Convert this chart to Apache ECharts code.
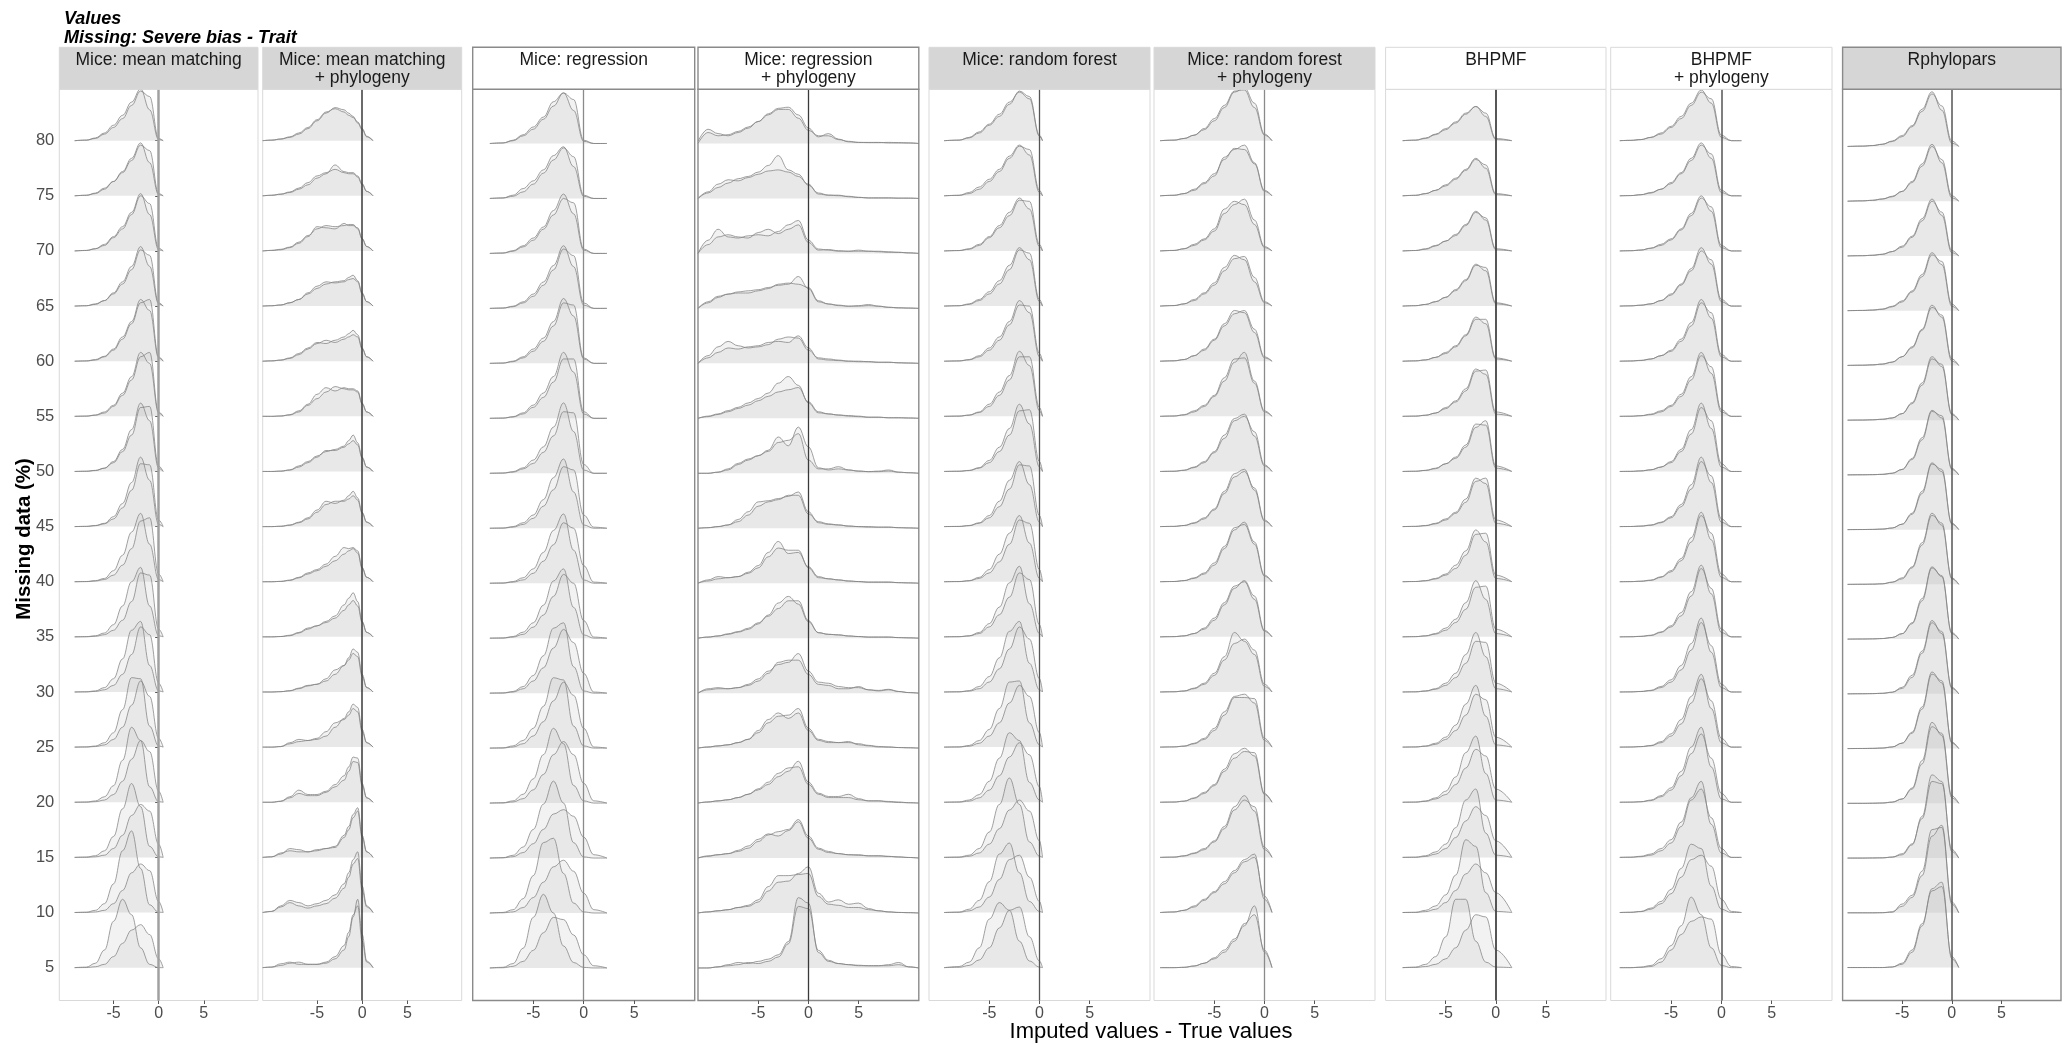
<!DOCTYPE html>
<html><head><meta charset="utf-8">
<script src="https://cdn.jsdelivr.net/npm/echarts@6/dist/echarts.min.js"></script>
<style>html,body{margin:0;padding:0;background:#fff}#c{width:2069px;height:1045px}</style>
</head><body><div id="c"></div>
<script>
// ---------------- DATA ----------------
const missingLevels = [80,75,70,65,60,55,50,45,40,35,30,25,20,15,10,5];
const yTickValues = [5,10,15,20,25,30,35,40,45,50,55,60,65,70,75,80];
const xTickValues = [-5,0,5];
const panelTitles = ["Mice: mean matching","Mice: mean matching\n+ phylogeny","Mice: regression","Mice: regression\n+ phylogeny","Mice: random forest","Mice: random forest\n+ phylogeny","BHPMF","BHPMF\n+ phylogeny","Rphylopars"];
const titleText = "Values\nMissing: Severe bias - Trait";
const xTitle = "Imputed values - True values";
const yTitle = "Missing data (%)";

// x positions of density estimates per panel
const G1 = [-9.3,-8,-7,-6,-5,-4,-3,-2,-1,0,0.5];
const G2 = [-11,-10,-9,-8,-7,-6,-5,-4,-3,-2,-1.5,-1,-0.5,0,0.5,1.2];
const G3 = [-9.3,-8,-7,-6,-5,-4,-3,-2,-1,0,1,2.3];
const G4 = [-11,-10,-9,-8,-7,-6,-5,-4,-3,-2,-1,0,1,2,3,4,5,6,7,8,9,10,11];
const G5 = [-9.5,-8,-7,-6,-5,-4,-3,-2,-1,0,0.3];
const G6 = [-10.4,-9,-8,-7,-6,-5,-4,-3,-2,-1,0,0.75];
const G7 = [-9.3,-8,-7,-6,-5,-4,-3,-2,-1,0,1.6];
const G8 = [-10.1,-9,-8,-7,-6,-5,-4,-3,-2,-1,0,1,2];
const G9 = [-10.5,-9,-8,-7,-6,-5,-4,-3,-2,-1,0,0.7];

// ridge heights (rows: 80% ... 5%), two replicate curves (a, b) per ridge
const P1a = [
[0,0.05,0.25,0.7,1.4,2.3,3.5,4.7,2.8,0.1,0],
[0,0.05,0.25,0.7,1.3,2.2,3.4,4.8,3.0,0.1,0],
[0,0.05,0.2,0.6,1.3,2.2,3.5,5.2,3.3,0.1,0],
[0,0.03,0.2,0.5,1.2,2.2,3.6,5.4,3.6,0.2,0],
[0,0.03,0.15,0.45,1.1,2.2,3.6,5.6,4.6,0.3,0],
[0,0.02,0.12,0.4,1.0,2.1,3.6,5.8,4.8,0.3,0],
[0,0.02,0.1,0.3,0.9,2.0,3.8,6.2,4.6,0.3,0],
[0,0.02,0.1,0.3,0.9,2.1,4.0,6.3,4.2,0.2,0],
[0,0.02,0.1,0.3,1.0,2.4,4.5,6.2,3.4,0.2,0],
[0,0.02,0.1,0.35,1.1,2.8,5.0,6.3,2.8,0.1,0],
[0,0.02,0.1,0.4,1.2,3.0,5.6,6.4,2.4,0.1,0],
[0,0.02,0.1,0.4,1.3,3.4,6.3,6.2,1.9,0.1,0],
[0,0.02,0.12,0.5,1.5,3.8,6.8,5.6,1.4,0.05,0],
[0,0.03,0.15,0.6,1.9,4.4,6.7,4.6,1.0,0.05,0],
[0,0.03,0.2,0.8,2.6,5.6,7.4,4.0,0.7,0.03,0],
[0,0.05,0.4,1.6,4.2,6.2,4.8,1.8,0.3,0,0]];
const P1b = [
[0,0.05,0.2,0.6,1.2,2.0,3.2,4.5,4.0,0.2,0],
[0,0.05,0.2,0.6,1.3,2.1,3.2,4.6,4.1,0.2,0],
[0,0.04,0.2,0.5,1.2,2.0,3.3,5.0,4.3,0.25,0],
[0,0.03,0.15,0.5,1.1,2.0,3.3,5.1,4.6,0.3,0],
[0,0.02,0.1,0.4,1.0,2.0,3.4,5.3,5.6,0.4,0],
[0,0.02,0.1,0.3,0.9,1.9,3.3,5.4,5.8,0.4,0],
[0,0.02,0.08,0.3,0.8,1.8,3.3,5.8,5.9,0.5,0],
[0,0.02,0.08,0.25,0.7,1.7,3.3,5.7,5.6,0.6,0],
[0,0.01,0.06,0.2,0.6,1.5,3.0,5.5,5.8,0.7,0],
[0,0.01,0.05,0.2,0.6,1.5,3.2,5.8,5.6,0.7,0],
[0,0.01,0.05,0.2,0.6,1.6,3.4,5.9,5.2,0.8,0],
[0,0.01,0.05,0.2,0.7,1.8,3.8,6.0,4.6,0.8,0],
[0,0.01,0.05,0.2,0.7,1.9,3.9,5.6,4.6,1.0,0],
[0,0.01,0.05,0.2,0.8,2.0,3.8,4.8,4.2,1.2,0],
[0,0.01,0.05,0.2,0.8,2.0,3.6,4.4,3.8,1.0,0],
[0,0.01,0.08,0.3,1.0,2.2,3.4,3.9,3.0,0.8,0]];

const P2a = [
[0,0.05,0.15,0.35,0.7,1.2,1.9,2.6,2.9,2.6,2.3,2.1,1.7,1.1,0.4,0],
[0,0.05,0.15,0.35,0.7,1.2,1.8,2.1,2.4,2.1,2.0,2.0,1.7,1.0,0.4,0],
[0,0.05,0.15,0.35,0.8,1.4,2.0,2.3,2.2,2.3,2.4,2.4,2.0,1.1,0.4,0],
[0,0.03,0.1,0.3,0.6,1.1,1.6,2.0,2.2,2.3,2.6,2.8,2.3,1.2,0.4,0],
[0,0.03,0.1,0.3,0.7,1.2,1.7,1.6,1.9,2.2,2.5,2.8,2.4,1.2,0.4,0],
[0,0,0.03,0.15,0.5,1.1,2.0,2.6,2.3,2.6,2.5,2.5,2.3,1.2,0.4,0],
[0,0,0.03,0.15,0.5,0.9,1.4,1.8,2.0,2.3,2.8,3.3,2.6,1.3,0.4,0],
[0,0,0.03,0.15,0.4,0.8,1.5,2.3,2.1,2.4,2.8,3.2,2.6,1.3,0.4,0],
[0,0,0.03,0.15,0.4,0.8,1.1,1.6,2.3,3.1,3.0,3.1,2.8,1.3,0.4,0],
[0,0,0.03,0.15,0.4,0.8,1.0,1.4,1.9,2.9,3.5,4.0,3.2,1.4,0.4,0],
[0,0,0.03,0.12,0.35,0.6,0.7,1.2,2.0,2.4,3.1,3.9,3.6,1.6,0.4,0],
[0,0,0.05,0.4,0.7,0.6,0.7,1.0,1.8,2.6,3.2,3.9,3.6,1.6,0.4,0],
[0,0,0.1,0.5,1.1,0.7,0.7,1.0,1.6,2.4,3.2,4.1,4.0,1.7,0.4,0],
[0,0.05,0.3,0.8,0.7,0.5,0.6,0.8,1.0,2.0,2.8,3.9,4.5,2.0,0.5,0],
[0,0.1,0.6,1.1,0.9,0.6,0.8,1.1,1.6,2.6,3.6,4.8,5.5,2.4,0.6,0],
[0,0.05,0.35,0.5,0.3,0.3,0.3,0.4,0.8,1.6,2.8,4.6,6.2,3.0,0.6,0]];
const P2b = [
[0,0.05,0.15,0.3,0.6,1.1,1.8,2.5,3.0,2.8,2.5,2.2,1.6,1.0,0.35,0],
[0,0.05,0.15,0.3,0.6,1.0,1.6,2.0,2.8,2.2,2.1,2.1,1.8,1.1,0.4,0],
[0,0.05,0.1,0.3,0.7,1.3,2.2,2.1,2.0,2.5,2.3,2.3,2.1,1.1,0.4,0],
[0,0.03,0.1,0.3,0.6,1.2,1.8,2.2,2.1,2.2,2.4,2.5,2.2,1.1,0.4,0],
[0,0.03,0.1,0.25,0.6,1.1,1.6,1.9,1.7,2.0,2.2,2.4,2.2,1.1,0.4,0],
[0,0,0.03,0.12,0.4,1.0,1.6,2.2,2.7,2.5,2.4,2.4,2.2,1.1,0.4,0],
[0,0,0.03,0.12,0.4,0.8,1.3,1.9,1.9,2.2,2.5,2.8,2.4,1.2,0.4,0],
[0,0,0.03,0.12,0.35,0.7,1.3,2.0,2.3,2.3,2.5,2.8,2.4,1.2,0.4,0],
[0,0,0.03,0.12,0.35,0.7,1.0,1.4,1.9,2.5,2.8,3.0,2.6,1.2,0.4,0],
[0,0,0.03,0.1,0.35,0.7,1.0,1.3,1.7,2.4,2.9,3.3,2.8,1.3,0.4,0],
[0,0,0.03,0.1,0.3,0.55,0.7,1.0,1.6,2.4,2.9,3.5,3.2,1.4,0.4,0],
[0,0,0.05,0.3,0.5,0.6,0.8,1.4,2.2,2.5,2.9,3.5,3.2,1.4,0.4,0],
[0,0,0.08,0.4,0.8,0.6,0.6,0.9,1.4,2.0,2.8,3.7,3.6,1.5,0.4,0],
[0,0.05,0.4,0.6,0.5,0.5,0.7,0.8,0.9,1.8,2.5,3.6,4.2,1.8,0.5,0],
[0,0.1,0.5,0.9,0.6,0.4,0.6,0.8,1.3,2.2,3.2,4.4,4.9,2.0,0.5,0],
[0,0.05,0.2,0.4,0.5,0.3,0.3,0.5,1.0,2.0,3.2,4.8,5.6,2.4,0.5,0]];

const P3a = [
[0,0.05,0.3,0.8,1.5,2.4,3.8,4.6,3.0,0.2,0,0],
[0,0.05,0.3,0.9,1.6,2.6,3.9,4.7,2.9,0.2,0,0],
[0,0.04,0.25,0.7,1.4,2.4,3.9,5.4,3.6,0.3,0,0],
[0,0.03,0.2,0.6,1.3,2.4,3.9,5.7,3.8,0.3,0,0],
[0,0.03,0.2,0.6,1.3,2.3,3.8,5.9,4.3,0.4,0,0],
[0,0.02,0.15,0.5,1.2,2.3,3.8,6.0,4.2,0.4,0,0],
[0,0.02,0.15,0.5,1.2,2.4,4.2,6.4,3.8,0.3,0,0],
[0,0.02,0.15,0.5,1.2,2.6,4.6,6.3,3.3,0.3,0,0],
[0,0.02,0.15,0.5,1.3,2.8,4.8,6.3,3.0,0.3,0,0],
[0,0.02,0.15,0.55,1.4,3.0,5.2,6.3,2.8,0.3,0,0],
[0,0.02,0.15,0.6,1.6,3.4,5.9,6.4,2.4,0.2,0,0],
[0,0.02,0.2,0.7,1.8,3.8,6.4,6.2,2.0,0.2,0,0],
[0,0.03,0.2,0.8,2.2,4.4,6.8,5.4,1.6,0.2,0,0],
[0,0.03,0.25,1.0,2.6,4.9,7.0,5.0,1.4,0.1,0,0],
[0,0.05,0.3,1.3,3.4,6.4,6.8,3.6,0.9,0.1,0,0],
[0,0.06,0.4,1.8,4.6,6.7,5.0,2.0,0.5,0.05,0,0]];
const P3b = [
[0,0.05,0.25,0.7,1.3,2.2,3.4,4.6,4.0,0.3,0,0],
[0,0.04,0.2,0.6,1.3,2.3,3.5,4.6,3.8,0.3,0,0],
[0,0.03,0.2,0.6,1.2,2.2,3.5,5.0,4.6,0.4,0,0],
[0,0.03,0.15,0.5,1.1,2.1,3.5,5.4,4.8,0.5,0,0],
[0,0.02,0.15,0.5,1.1,2.0,3.4,5.5,5.3,0.5,0,0],
[0,0.02,0.12,0.4,1.0,1.9,3.3,5.4,5.4,0.6,0,0],
[0,0.02,0.1,0.4,0.9,1.9,3.4,5.6,5.5,0.8,0,0],
[0,0.01,0.1,0.35,0.9,2.0,3.5,5.6,5.3,1.2,0.1,0],
[0,0.01,0.1,0.3,0.9,2.0,3.5,5.5,5.0,1.6,0.1,0],
[0,0.01,0.1,0.35,1.0,2.1,3.8,5.8,5.0,1.6,0.1,0],
[0,0.01,0.1,0.4,1.1,2.3,4.1,5.8,4.6,1.8,0.1,0],
[0,0.01,0.1,0.4,1.1,2.4,4.3,6.0,4.8,1.8,0.1,0],
[0,0.01,0.1,0.4,1.2,2.6,4.4,5.6,4.4,1.8,0.2,0],
[0,0.02,0.12,0.5,1.3,2.6,4.0,4.4,3.8,1.9,0.3,0],
[0,0.02,0.1,0.5,1.4,2.8,4.2,4.8,3.8,1.8,0.3,0],
[0,0.02,0.15,0.6,1.6,3.2,4.6,4.4,3.0,1.2,0.2,0]];

const P4a = [
[0,1.0,0.7,0.8,1.1,1.5,2.0,2.6,3.1,3.1,2.3,1.2,0.7,0.7,0.35,0.2,0.1,0.1,0.1,0.05,0.05,0.05,0],
[0,0.6,1.3,1.7,1.6,1.9,2.2,2.5,2.6,2.4,2.0,1.3,0.4,0.3,0.25,0.2,0.1,0.05,0.05,0.05,0.03,0.03,0],
[0,1.2,2.2,1.5,1.4,1.6,1.7,1.6,2.0,2.6,3.0,1.2,0.4,0.3,0.2,0.2,0.3,0.2,0.2,0.15,0.1,0.05,0],
[0,0.6,1.1,1.3,1.5,1.6,1.7,1.9,2.1,2.2,2.9,1.8,0.6,0.4,0.3,0.2,0.25,0.35,0.2,0.1,0.05,0.03,0],
[0,0.7,1.5,2.0,1.6,1.4,1.5,1.7,2.2,2.4,2.3,1.2,0.5,0.4,0.3,0.2,0.2,0.15,0.1,0.1,0.05,0.03,0],
[0,0.2,0.4,0.7,1.0,1.4,1.8,2.3,3.2,3.8,3.0,1.4,0.5,0.4,0.3,0.2,0.15,0.1,0.1,0.05,0.05,0.03,0],
[0,0,0.1,0.4,0.9,1.3,1.6,2.0,2.8,3.0,3.6,1.2,0.4,0.4,0.6,0.3,0.2,0.15,0.2,0.3,0.1,0.05,0],
[0,0.05,0.15,0.3,0.8,1.5,2.4,2.5,2.7,2.9,3.3,1.5,0.5,0.35,0.3,0.2,0.15,0.1,0.1,0.1,0.05,0.03,0],
[0,0.3,0.6,0.5,0.6,0.9,1.4,2.4,3.2,3.0,3.0,1.4,0.5,0.4,0.3,0.2,0.15,0.1,0.1,0.1,0.05,0.03,0],
[0,0.1,0.2,0.4,0.6,0.9,1.4,2.0,2.7,3.4,3.4,1.6,0.5,0.35,0.3,0.2,0.15,0.1,0.1,0.1,0.05,0.03,0],
[0,0.4,0.5,0.4,0.5,0.8,1.3,2.0,2.6,2.8,3.6,2.0,1.0,0.9,0.6,0.5,0.5,0.3,0.25,0.35,0.15,0.05,0],
[0,0.1,0.2,0.3,0.5,0.8,1.4,2.3,2.9,3.0,3.6,1.8,0.8,0.6,0.5,0.5,0.4,0.25,0.15,0.1,0.05,0.03,0],
[0,0.1,0.2,0.3,0.5,0.8,1.2,1.7,2.4,2.9,3.8,1.9,0.9,0.6,0.6,0.8,0.4,0.2,0.2,0.15,0.1,0.03,0],
[0,0.2,0.3,0.4,0.6,0.9,1.5,2.1,2.4,2.6,3.5,2.0,0.9,0.6,0.4,0.3,0.3,0.2,0.2,0.15,0.1,0.05,0],
[0,0.1,0.2,0.3,0.5,0.6,1.0,2.0,2.8,2.9,3.6,4.2,1.8,1.0,1.2,0.8,0.9,0.4,0.2,0.1,0.05,0.03,0],
[0,0,0.1,0.3,0.5,0.4,0.6,0.8,1.2,2.4,6.4,5.9,1.4,0.6,0.4,0.3,0.25,0.2,0.2,0.3,0.5,0.1,0]];
const P4b = [
[0.2,1.3,0.9,0.7,1.0,1.4,2.0,2.7,3.2,3.3,2.6,1.4,0.6,0.9,0.4,0.15,0.1,0.08,0.08,0.1,0.08,0.05,0],
[0,0.5,1.0,1.4,1.8,2.0,2.4,3.0,3.9,2.6,2.2,1.2,0.5,0.3,0.3,0.15,0.1,0.05,0.05,0.05,0.03,0.03,0],
[0,0.8,1.5,1.7,1.5,1.4,1.9,2.2,1.8,2.2,2.6,1.0,0.3,0.35,0.25,0.2,0.2,0.2,0.15,0.1,0.1,0.05,0],
[0,0.5,1.0,1.3,1.4,1.4,1.6,1.8,2.2,2.3,2.2,1.9,0.7,0.4,0.25,0.2,0.2,0.25,0.2,0.1,0.05,0.03,0],
[0,0.5,1.0,1.4,1.3,1.5,1.6,1.9,2.0,1.9,2.5,1.4,0.4,0.3,0.25,0.2,0.15,0.15,0.1,0.1,0.05,0.03,0],
[0,0.15,0.35,0.6,0.9,1.2,1.6,2.0,2.4,2.6,2.8,1.5,0.6,0.4,0.3,0.25,0.2,0.1,0.1,0.05,0.05,0.03,0],
[0,0,0.1,0.3,0.8,1.2,1.6,2.1,3.3,2.5,4.2,2.4,0.5,0.3,0.4,0.3,0.2,0.15,0.15,0.2,0.1,0.05,0],
[0,0.05,0.15,0.3,0.6,1.2,2.0,2.4,2.6,3.0,3.0,1.3,0.6,0.4,0.3,0.2,0.15,0.15,0.1,0.1,0.05,0.03,0],
[0,0.2,0.4,0.5,0.6,1.0,1.6,2.8,3.8,2.7,2.8,1.5,0.6,0.4,0.3,0.2,0.15,0.1,0.1,0.1,0.05,0.03,0],
[0,0.1,0.2,0.35,0.55,0.8,1.3,2.1,3.2,3.8,3.1,1.5,0.5,0.35,0.3,0.2,0.15,0.1,0.1,0.1,0.05,0.03,0],
[0,0.3,0.4,0.4,0.5,0.7,1.1,1.8,2.8,3.0,3.0,1.7,0.8,0.7,0.4,0.4,0.6,0.3,0.2,0.3,0.15,0.05,0],
[0,0.1,0.2,0.3,0.5,0.8,1.6,2.6,3.2,2.7,3.2,1.6,0.7,0.5,0.5,0.6,0.3,0.2,0.1,0.1,0.05,0.03,0],
[0,0.1,0.2,0.3,0.5,0.8,1.3,1.9,2.7,3.2,3.3,1.7,0.8,0.5,0.5,0.5,0.3,0.2,0.2,0.1,0.05,0.03,0],
[0,0.15,0.3,0.4,0.7,1.1,1.7,2.2,2.0,2.5,3.3,1.8,0.8,0.5,0.4,0.3,0.25,0.2,0.2,0.15,0.1,0.05,0],
[0,0.1,0.2,0.3,0.5,0.7,1.2,2.4,3.4,3.4,3.5,3.6,1.5,0.8,0.7,0.5,0.5,0.3,0.2,0.1,0.05,0.03,0],
[0,0,0.1,0.2,0.3,0.5,0.4,0.6,1.0,2.2,5.6,5.4,1.6,0.7,0.4,0.3,0.2,0.2,0.2,0.2,0.3,0.1,0]];

const P5a = [
[0,0.05,0.3,0.8,1.5,2.4,3.5,4.4,3.8,0.4,0],
[0,0.05,0.3,0.8,1.5,2.4,3.6,4.6,3.7,0.3,0],
[0,0.04,0.2,0.6,1.3,2.3,3.5,4.8,3.8,0.4,0],
[0,0.03,0.2,0.6,1.3,2.3,3.7,5.3,4.2,0.4,0],
[0,0.03,0.15,0.5,1.2,2.2,3.6,5.5,4.4,0.4,0],
[0,0.02,0.12,0.4,1.1,2.2,3.7,5.9,4.6,0.5,0],
[0,0.02,0.1,0.35,1.0,2.2,3.9,6.1,4.3,0.4,0],
[0,0.02,0.1,0.35,1.0,2.3,4.2,5.9,3.8,0.4,0],
[0,0.02,0.1,0.4,1.1,2.5,4.4,6.0,3.5,0.3,0],
[0,0.02,0.1,0.4,1.2,2.7,4.9,6.4,3.0,0.3,0],
[0,0.02,0.12,0.5,1.4,3.1,5.5,6.4,2.6,0.2,0],
[0,0.02,0.15,0.6,1.6,3.5,5.9,6.0,2.2,0.2,0],
[0,0.03,0.2,0.7,1.9,4.0,6.3,5.6,1.8,0.2,0],
[0,0.03,0.2,0.8,2.3,4.8,7.2,4.8,1.4,0.1,0],
[0,0.04,0.3,1.1,2.8,5.3,6.3,3.6,1.0,0.1,0],
[0,0.1,0.5,1.8,4.4,5.9,5.2,2.4,0.6,0.05,0]];
const P5b = [
[0,0.05,0.25,0.7,1.4,2.2,3.3,4.5,4.0,0.5,0],
[0,0.04,0.2,0.6,1.3,2.2,3.4,4.5,4.2,0.5,0],
[0,0.03,0.15,0.5,1.2,2.1,3.2,4.6,4.5,0.6,0],
[0,0.03,0.15,0.5,1.1,2.0,3.3,5.1,4.8,0.6,0],
[0,0.02,0.12,0.4,1.0,1.9,3.3,5.1,5.0,0.7,0],
[0,0.02,0.1,0.35,0.9,1.9,3.3,5.4,5.4,0.8,0],
[0,0.02,0.08,0.3,0.8,1.8,3.3,5.5,5.6,0.9,0],
[0,0.01,0.08,0.3,0.8,1.8,3.4,5.6,5.5,1.0,0],
[0,0.01,0.08,0.3,0.8,1.8,3.4,5.6,5.3,1.1,0],
[0,0.01,0.08,0.3,0.9,2.0,3.6,5.8,5.2,1.1,0],
[0,0.01,0.08,0.3,0.9,2.1,3.9,5.9,4.8,1.2,0],
[0,0.01,0.08,0.35,1.0,2.2,4.0,5.6,4.6,1.3,0],
[0,0.01,0.1,0.4,1.1,2.4,4.1,5.4,4.3,1.4,0],
[0,0.01,0.1,0.4,1.2,2.6,4.3,5.2,4.2,1.5,0],
[0,0.02,0.15,0.5,1.4,3.0,4.8,5.2,3.2,1.0,0],
[0,0.03,0.2,0.7,1.8,3.6,5.2,5.5,2.8,0.6,0]];

const P6a = [
[0,0.05,0.2,0.5,1.1,2.0,3.2,4.5,4.6,3.0,0.5,0],
[0,0.05,0.2,0.6,1.2,2.0,3.3,4.3,4.2,2.9,0.4,0],
[0,0.05,0.2,0.6,1.1,2.0,3.8,4.5,4.2,2.4,0.3,0],
[0,0.05,0.2,0.6,1.2,2.1,3.5,4.6,4.2,2.2,0.3,0],
[0,0.04,0.15,0.5,1.1,2.0,3.4,4.6,4.4,2.6,0.3,0],
[0,0.03,0.15,0.5,1.0,1.9,3.5,5.2,5.3,3.0,0.4,0],
[0,0.02,0.12,0.4,0.9,1.8,3.3,4.8,5.2,3.2,0.5,0],
[0,0.02,0.1,0.35,0.8,1.6,3.2,4.8,5.2,3.3,0.5,0],
[0,0.02,0.1,0.35,0.8,1.7,3.2,4.9,5.2,3.4,0.5,0],
[0,0.02,0.1,0.3,0.8,1.7,3.1,4.6,5.0,3.4,0.5,0],
[0,0.02,0.1,0.35,0.8,1.7,3.2,5.4,4.6,3.4,0.5,0],
[0,0.02,0.1,0.35,0.8,1.7,3.2,4.6,4.8,4.0,0.6,0],
[0,0.02,0.1,0.4,0.9,1.6,3.0,4.4,4.9,4.2,0.7,0],
[0,0.03,0.15,0.4,0.8,1.5,2.8,4.6,5.6,4.2,0.7,0],
[0,0.05,0.2,0.6,1.2,1.9,2.8,3.8,4.8,5.3,1.2,0],
[0,0,0.03,0.15,0.4,0.9,1.6,2.6,3.8,5.6,1.4,0]];
const P6b = [
[0,0.05,0.2,0.5,1.0,1.8,3.0,4.4,4.8,3.4,0.6,0],
[0,0.05,0.2,0.5,1.1,1.8,3.5,4.2,4.6,3.0,0.5,0],
[0,0.04,0.2,0.5,1.0,1.8,3.4,4.2,4.7,2.8,0.4,0],
[0,0.04,0.2,0.5,1.1,1.9,3.2,4.3,4.5,2.6,0.4,0],
[0,0.03,0.15,0.5,1.0,1.9,3.2,4.3,4.6,2.9,0.4,0],
[0,0.03,0.12,0.4,0.9,1.8,3.2,4.9,5.8,3.2,0.5,0],
[0,0.02,0.1,0.35,0.8,1.7,3.0,4.6,5.0,3.6,0.6,0],
[0,0.02,0.1,0.3,0.7,1.5,3.0,4.5,5.0,3.5,0.6,0],
[0,0.02,0.1,0.3,0.7,1.5,3.0,4.7,5.4,3.6,0.6,0],
[0,0.02,0.08,0.3,0.7,1.5,2.9,4.4,5.1,3.7,0.6,0],
[0,0.02,0.08,0.3,0.7,1.5,2.9,4.4,4.8,3.8,0.7,0],
[0,0.02,0.08,0.3,0.7,1.5,2.9,4.5,4.5,4.4,0.8,0],
[0,0.02,0.1,0.35,0.8,1.5,2.8,4.0,4.6,4.5,0.8,0],
[0,0.02,0.12,0.35,0.7,1.4,2.6,4.3,5.2,4.6,0.9,0],
[0,0.05,0.2,0.5,1.1,1.8,2.6,3.6,4.6,5.0,1.5,0],
[0,0,0.03,0.15,0.4,0.8,1.4,2.4,4.0,4.8,1.6,0]];

const P7a = [
[0,0.05,0.25,0.6,1.1,1.7,2.5,3.1,2.2,0.1,0],
[0,0.05,0.2,0.5,1.0,1.6,2.4,3.4,2.5,0.1,0],
[0,0.04,0.2,0.5,0.9,1.5,2.4,3.6,2.8,0.1,0],
[0,0.04,0.15,0.4,0.8,1.5,2.4,3.8,3.2,0.2,0],
[0,0.03,0.12,0.35,0.8,1.4,2.4,4.0,3.4,0.2,0],
[0,0.02,0.1,0.3,0.8,1.4,2.5,4.3,3.8,0.2,0],
[0,0.02,0.1,0.3,0.7,1.3,2.4,4.3,4.2,0.3,0],
[0,0.02,0.1,0.3,0.7,1.3,2.5,4.4,3.9,0.3,0],
[0,0.02,0.1,0.3,0.7,1.5,2.8,4.7,3.6,0.3,0],
[0,0.02,0.1,0.3,0.8,1.6,3.1,5.1,3.4,0.3,0],
[0,0.02,0.1,0.3,0.8,1.7,3.4,5.4,3.2,0.3,0],
[0,0.02,0.1,0.35,0.9,2.0,3.9,5.6,2.8,0.2,0],
[0,0.02,0.12,0.4,1.0,2.3,4.5,6.0,2.6,0.2,0],
[0,0.02,0.15,0.5,1.2,2.7,5.2,6.2,2.2,0.2,0],
[0,0.02,0.2,0.6,1.6,3.4,6.6,6.0,1.8,0.1,0],
[0,0.05,0.3,1.0,2.8,6.2,6.2,2.4,0.5,0.05,0]];
const P7b = [
[0,0.05,0.2,0.55,1.0,1.6,2.4,3.1,2.5,0.2,0],
[0,0.04,0.2,0.5,0.9,1.5,2.3,3.3,2.8,0.2,0],
[0,0.04,0.15,0.45,0.9,1.4,2.3,3.5,3.0,0.2,0],
[0,0.03,0.15,0.4,0.8,1.4,2.3,3.7,3.5,0.3,0],
[0,0.03,0.12,0.35,0.7,1.3,2.3,3.8,3.8,0.3,0],
[0,0.02,0.1,0.3,0.7,1.3,2.3,4.1,4.2,0.4,0],
[0,0.02,0.1,0.25,0.7,1.2,2.2,4.0,4.6,0.5,0],
[0,0.02,0.08,0.25,0.6,1.2,2.2,4.1,4.4,0.6,0],
[0,0.02,0.08,0.25,0.6,1.2,2.4,4.3,4.4,0.6,0],
[0,0.02,0.08,0.25,0.6,1.3,2.5,4.5,4.6,0.7,0],
[0,0.01,0.08,0.25,0.6,1.3,2.6,4.6,4.5,0.8,0],
[0,0.01,0.08,0.25,0.7,1.5,2.9,4.8,4.3,0.9,0],
[0,0.01,0.08,0.3,0.7,1.6,3.1,4.8,4.2,1.2,0],
[0,0.01,0.08,0.3,0.8,1.8,3.3,4.6,3.8,1.5,0],
[0,0.01,0.08,0.3,0.9,2.0,3.5,4.4,3.6,1.8,0],
[0,0.02,0.1,0.3,0.8,1.8,3.4,4.8,4.6,1.6,0]];

const P8a = [
[0,0.03,0.1,0.3,0.7,1.3,2.2,3.4,4.6,3.4,0.3,0,0],
[0,0.02,0.1,0.3,0.6,1.2,2.1,3.4,4.8,3.4,0.3,0,0],
[0,0.02,0.08,0.25,0.6,1.1,2.0,3.4,5.0,3.6,0.3,0,0],
[0,0.02,0.08,0.2,0.5,1.1,2.0,3.4,5.3,3.8,0.4,0,0],
[0,0.02,0.08,0.2,0.5,1.0,2.0,3.5,5.6,3.9,0.4,0,0],
[0,0.01,0.06,0.2,0.5,1.0,2.0,3.6,5.8,3.9,0.4,0,0],
[0,0.01,0.05,0.15,0.4,0.9,2.0,3.8,6.2,3.9,0.4,0,0],
[0,0.01,0.05,0.15,0.4,0.9,2.0,3.8,6.3,4.0,0.4,0,0],
[0,0.01,0.05,0.15,0.45,1.0,2.1,4.0,6.3,3.8,0.4,0,0],
[0,0.01,0.05,0.15,0.45,1.0,2.2,4.1,6.5,3.9,0.4,0,0],
[0,0.01,0.05,0.15,0.5,1.1,2.4,4.4,6.7,3.6,0.4,0,0],
[0,0.01,0.05,0.15,0.5,1.2,2.5,4.6,6.6,3.5,0.4,0,0],
[0,0.01,0.05,0.2,0.6,1.3,2.8,5.0,6.8,3.2,0.3,0,0],
[0,0.02,0.1,0.3,0.8,1.6,3.2,5.4,6.9,3.0,0.4,0,0],
[0,0.02,0.1,0.4,1.0,2.1,4.0,6.2,5.8,2.4,0.3,0,0],
[0,0,0.05,0.2,0.8,2.0,3.8,6.4,4.8,1.8,0.2,0,0]];
const P8b = [
[0,0.03,0.1,0.3,0.6,1.2,2.0,3.2,4.4,3.8,0.5,0,0],
[0,0.02,0.1,0.25,0.6,1.1,2.0,3.2,4.6,3.8,0.5,0,0],
[0,0.02,0.08,0.25,0.5,1.0,1.9,3.2,4.8,4.0,0.5,0,0],
[0,0.02,0.08,0.2,0.5,1.0,1.9,3.2,5.0,4.2,0.6,0,0],
[0,0.02,0.06,0.2,0.5,0.9,1.8,3.2,5.3,4.4,0.6,0,0],
[0,0.01,0.05,0.15,0.4,0.9,1.8,3.3,5.5,4.5,0.6,0,0],
[0,0.01,0.05,0.15,0.4,0.8,1.8,3.4,5.8,4.6,0.7,0,0],
[0,0.01,0.04,0.12,0.35,0.8,1.8,3.4,5.9,4.6,0.7,0,0],
[0,0.01,0.04,0.12,0.4,0.9,1.9,3.6,6.0,4.4,0.7,0,0],
[0,0.01,0.04,0.12,0.4,0.9,1.9,3.7,6.2,4.4,0.7,0,0],
[0,0.01,0.04,0.12,0.4,0.9,2.0,3.8,6.3,4.2,0.7,0,0],
[0,0.01,0.04,0.12,0.4,1.0,2.1,4.0,6.2,4.2,0.8,0,0],
[0,0.01,0.04,0.15,0.5,1.1,2.4,4.4,6.2,4.0,0.8,0,0],
[0,0.01,0.06,0.2,0.6,1.3,2.8,5.2,6.2,3.6,0.8,0,0],
[0,0.02,0.08,0.3,0.8,1.7,3.2,4.8,5.2,4.2,1.2,0.1,0],
[0,0,0.03,0.1,0.5,1.6,3.0,4.2,4.6,4.4,1.2,0.1,0]];

const P9a = [
[0,0.03,0.08,0.2,0.5,1.0,1.9,3.4,5.0,3.3,0.3,0],
[0,0.03,0.08,0.2,0.45,0.9,1.8,3.4,5.2,3.5,0.3,0],
[0,0.02,0.06,0.15,0.4,0.9,1.8,3.4,5.2,3.7,0.3,0],
[0,0.02,0.06,0.15,0.4,0.9,1.8,3.3,5.3,4.2,0.4,0],
[0,0.02,0.05,0.12,0.3,0.8,1.7,3.3,5.5,4.4,0.4,0],
[0,0.01,0.03,0.08,0.2,0.6,1.6,3.4,5.8,4.9,0.5,0],
[0,0.01,0.02,0.05,0.15,0.5,1.5,3.4,5.9,5.2,0.5,0],
[0,0.01,0.02,0.05,0.15,0.5,1.5,3.5,6.1,5.3,0.5,0],
[0,0.01,0.02,0.05,0.2,0.6,1.6,3.8,6.5,5.4,0.5,0],
[0,0.01,0.02,0.05,0.15,0.5,1.5,3.7,6.6,5.7,0.5,0],
[0,0.01,0.02,0.05,0.15,0.6,1.7,3.9,6.7,5.5,0.5,0],
[0,0.01,0.02,0.05,0.15,0.5,1.5,3.8,7.0,6.0,0.5,0],
[0,0,0.01,0.03,0.12,0.4,1.4,3.9,7.4,6.2,0.5,0],
[0,0,0.01,0.02,0.1,0.3,1.2,3.8,7.6,7.0,0.6,0],
[0,0,0,0.01,0.05,0.8,1.6,3.8,7.6,7.8,0.8,0],
[0,0,0,0,0.05,0.3,1.4,3.8,7.2,7.8,0.8,0]];
const P9b = [
[0,0.03,0.08,0.2,0.45,0.9,1.8,3.2,4.8,3.7,0.5,0],
[0,0.03,0.08,0.2,0.4,0.9,1.7,3.2,5.0,3.8,0.5,0],
[0,0.02,0.06,0.15,0.4,0.8,1.7,3.2,5.0,4.0,0.5,0],
[0,0.02,0.05,0.12,0.35,0.8,1.7,3.1,5.1,4.5,0.6,0],
[0,0.02,0.05,0.12,0.3,0.8,1.6,3.2,5.3,4.6,0.6,0],
[0,0.01,0.03,0.08,0.2,0.6,1.5,3.2,5.6,5.1,0.6,0],
[0,0.01,0.02,0.05,0.15,0.5,1.4,3.2,5.8,5.4,0.6,0],
[0,0.01,0.02,0.05,0.15,0.5,1.4,3.3,6.0,5.5,0.6,0],
[0,0.01,0.02,0.05,0.2,0.5,1.5,3.6,6.3,5.6,0.6,0],
[0,0.01,0.02,0.05,0.15,0.5,1.4,3.5,6.5,5.8,0.6,0],
[0,0.01,0.02,0.05,0.15,0.5,1.5,3.7,6.5,5.7,0.6,0],
[0,0.01,0.02,0.05,0.15,0.5,1.4,3.6,6.8,6.2,0.6,0],
[0,0,0.01,0.03,0.1,0.4,1.3,3.6,7.0,6.4,0.7,0],
[0,0,0.01,0.02,0.08,0.4,1.3,3.6,7.0,6.8,0.8,0],
[0,0,0,0.01,0.1,0.6,1.4,3.4,7.0,8.0,1.0,0],
[0,0,0,0,0.05,0.4,1.6,4.0,7.0,7.4,1.0,0]];

// ---------------- LAYOUT / STYLE ----------------
const FONT = '"Liberation Sans", Arial, Helvetica, sans-serif';
const grids = [G1,G2,G3,G4,G5,G6,G7,G8,G9];
const curvesA = [P1a,P2a,P3a,P4a,P5a,P6a,P7a,P8a,P9a];
const curvesB = [P1b,P2b,P3b,P4b,P5b,P6b,P7b,P8b,P9b];
const boxX = [[59.3,258],[262.7,461.7],[472.7,694.7],[698,918.8],[929,1150],[1154,1375],[1385.6,1606],[1610.7,1832],[1842.6,2061]];
const TOP = 89.3, BOT = 1000.5, STRIP_TOP = 47.3;
const yLim = [[2.02,84.66],[2.02,84.66],[2.04,84.93],[2.04,84.93],[2.02,84.66],[2.02,84.66],[2.02,84.66],[2.02,84.66],[1.99,85.22]];
const stripFill = ['#d6d6d6','#d6d6d6','#ffffff','#ffffff','#d6d6d6','#d6d6d6','#ffffff','#ffffff','#d6d6d6'];
const dark = [false,false,true,true,false,false,false,false,true];
const vCol = ['#a0a0a0','#3a3a3a','#8a8a8a','#3a3a3a','#555555','#8a8a8a','#444444','#555555','#555555'];
const vW = [2.5,1.5,1.3,1.3,1.3,1.3,1.8,1.5,1.5];

const option = {
  animation:false, backgroundColor:'#ffffff',
  title:{text:titleText, left:59, top:5, textStyle:{fontFamily:FONT, fontSize:18, fontWeight:'bold', fontStyle:'italic', color:'#000', lineHeight:19}},
  grid:[], xAxis:[], yAxis:[], series:[], graphic:[]
};

grids.forEach((G,i)=>{
  const [x0,x1] = boxX[i];
  const bcol = dark[i] ? '#8a8a8a' : '#d9d9d9';
  option.grid.push({left:x0, top:TOP, width:x1-x0, height:BOT-TOP, show:true, backgroundColor:'#fff',
    borderColor:bcol, borderWidth:dark[i]?1.4:1, containLabel:false, outerBoundsMode:'none'});
  option.xAxis.push({gridIndex:i, type:'value', min:-11, max:11,
    splitLine:{show:false}, axisLine:{show:false},
    axisTick:{show:true, length:3.5, inside:false, customValues:xTickValues, lineStyle:{color:'#555'}},
    axisLabel:{customValues:xTickValues, color:'#4d4d4d', fontSize:16, margin:5, fontFamily:FONT}});
  option.yAxis.push({gridIndex:i, type:'value', min:yLim[i][0], max:yLim[i][1],
    splitLine:{show:false}, axisLine:{show:false},
    axisTick:{show:i===0, length:3.5, customValues:yTickValues, lineStyle:{color:'#555'}},
    axisLabel:{show:i===0, customValues:yTickValues, color:'#4d4d4d', fontSize:16.5, margin:5, fontFamily:FONT}});
  let first = true;
  missingLevels.forEach((m,r)=>{
    [curvesA[i][r], curvesB[i][r]].forEach(h=>{
      const s = {type:'line', xAxisIndex:i, yAxisIndex:i, silent:true, animation:false,
        data:G.map((x,k)=>[x, m + (h[k]||0)]),
        smooth:0.4, smoothMonotone:'x', symbol:'none', showSymbol:false,
        lineStyle:{color:'rgba(130,130,130,0.75)', width:1},
        areaStyle:{color:'rgba(200,200,200,0.34)', origin:m}};
      if(first){
        s.markLine = {silent:true, symbol:['none','none'], label:{show:false}, animation:false,
          lineStyle:{color:vCol[i], width:vW[i], type:'solid'}, data:[{xAxis:0}]};
        first = false;
      }
      option.series.push(s);
    });
  });
  // strip
  option.graphic.push({type:'rect', silent:true, shape:{x:x0, y:STRIP_TOP, width:x1-x0, height:TOP-STRIP_TOP},
    style:{fill:stripFill[i], stroke:bcol, lineWidth:dark[i]?1.4:1}, z:10});
  option.graphic.push({type:'text', silent:true, z:11, style:{text:panelTitles[i], x:(x0+x1)/2, y:51,
    align:'center', verticalAlign:'top', fontFamily:FONT, fontSize:17.5, lineHeight:18, fill:'#1a1a1a'}});
});

option.graphic.push({type:'text', silent:true, style:{text:xTitle, x:1151, y:1032, align:'center', verticalAlign:'middle', fontFamily:FONT, fontSize:22, fill:'#000'}});
option.graphic.push({type:'text', silent:true, rotation:Math.PI/2, x:24, y:539, style:{text:yTitle, x:0, y:0, align:'center', verticalAlign:'middle', fontFamily:FONT, fontSize:20.5, fontWeight:'bold', fill:'#000'}});

const chart = echarts.init(document.getElementById('c'), null, {renderer:'canvas'});
chart.setOption(option);
</script>
</body></html>
